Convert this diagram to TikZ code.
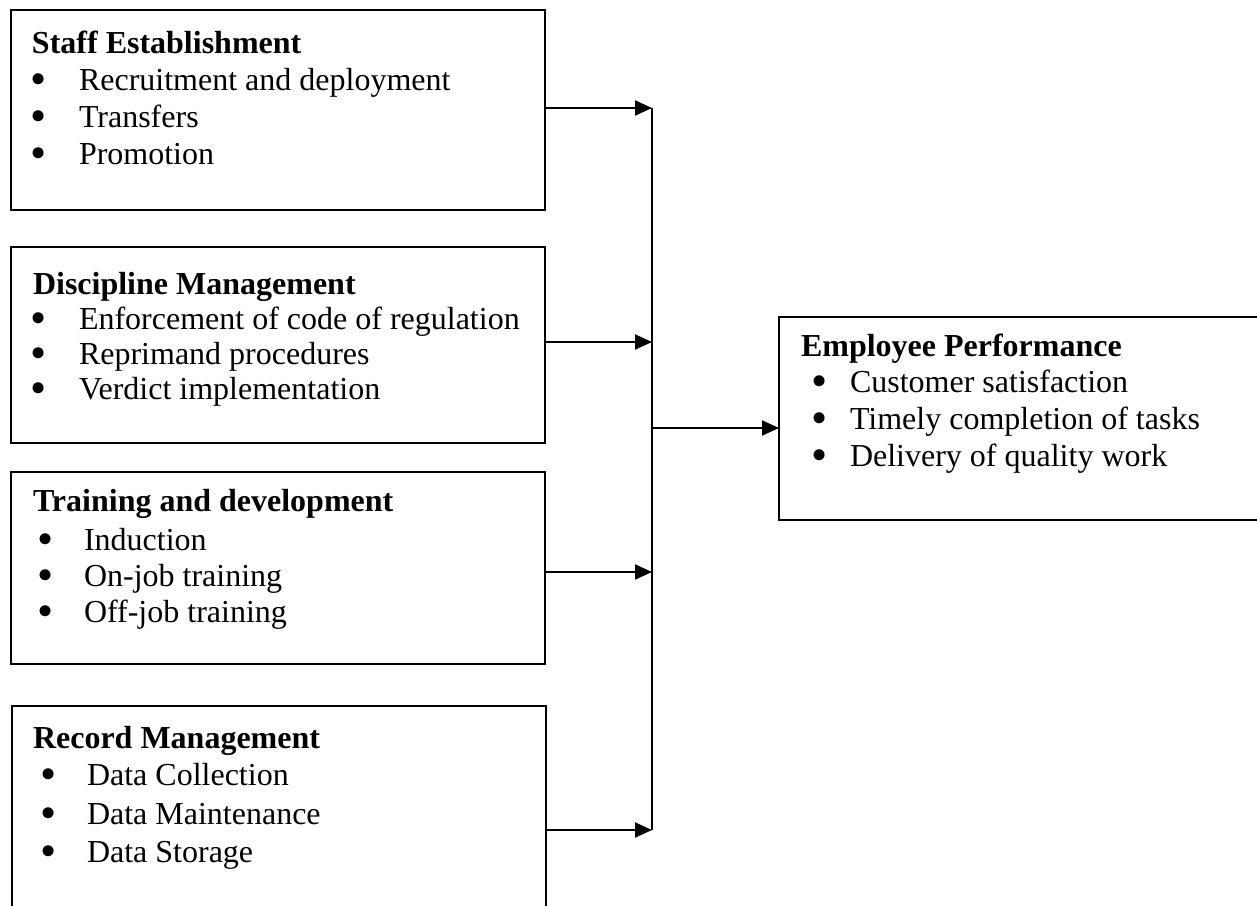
\documentclass[tikz,border=0pt]{standalone}
\usepackage{fontspec}
\usepackage{graphicx}
\setmainfont{Liberation Serif}
\usetikzlibrary{arrows.meta}
\newcommand\bigbul{\smash{\raisebox{-2.2pt}{\scalebox{1.44}{\textbullet}}}}
\begin{document}
\begin{tikzpicture}[x=0.5pt,y=-0.5pt,
  area/.style={draw=none,rectangle,inner sep=0pt,outer sep=0pt,anchor=north west},
  boxline/.style={line width=1pt,line join=miter},
  txt/.style={anchor=base west,inner sep=0pt,outer sep=0pt,font=\fontsize{16}{19}\selectfont},
  ttl/.style={txt,font=\fontsize{16}{19}\selectfont\bfseries},
  conn/.style={line width=1pt},
  arr/.style={line width=1pt,-{Triangle[length=8.5pt,width=7.5pt]}}]
\useasboundingbox (0,0) rectangle (1257,905);
% box areas
\node[area,minimum width=267pt,minimum height=100pt] (b1) at (11,10) {};
\node[area,minimum width=267pt,minimum height=98pt] (b2) at (11,247) {};
\node[area,minimum width=267pt,minimum height=96pt] (b3) at (11,472) {};
\node[area,minimum width=267pt,minimum height=104pt] (b4) at (12,706) {};
\node[area,minimum width=245pt,minimum height=101.5pt] (ep) at (779,317) {};
% outlines
\draw[boxline] (b1.south west) rectangle (b1.north east);
\draw[boxline] (b2.south west) rectangle (b2.north east);
\draw[boxline] (b3.south west) rectangle (b3.north east);
\draw[boxline] (b4.south west) -- (b4.north west) -- (b4.north east) -- (b4.south east);
\draw[boxline] (ep.north east) -- (ep.north west) -- (ep.south west) -- (ep.south east);
% box 1
\node[ttl] (t1) at (32,53) {Staff Establishment};
\node[txt] (t1a) at (30,90) {\bigbul};
\node[txt] (t1b) at (79,90) {Recruitment and deployment};
\node[txt] (t1c) at (30,127) {\bigbul};
\node[txt] (t1d) at (79,127) {Transfers};
\node[txt] (t1e) at (30,164) {\bigbul};
\node[txt] (t1f) at (79,164) {Promotion};
% box 2
\node[ttl] (t2) at (33,294) {Discipline Management};
\node[txt] (t2a) at (30,329) {\bigbul};
\node[txt] (t2b) at (79,329) {Enforcement of code of regulation};
\node[txt] (t2c) at (30,364) {\bigbul};
\node[txt] (t2d) at (79,364) {Reprimand procedures};
\node[txt] (t2e) at (30,399) {\bigbul};
\node[txt] (t2f) at (79,399) {Verdict implementation};
% box 3
\node[ttl] (t3) at (33,511) {Training and development};
\node[txt] (t3a) at (37,550) {\bigbul};
\node[txt] (t3b) at (84,550) {Induction};
\node[txt] (t3c) at (37,586) {\bigbul};
\node[txt] (t3d) at (84,586) {On-job training};
\node[txt] (t3e) at (37,622) {\bigbul};
\node[txt] (t3f) at (84,622) {Off-job training};
% box 4
\node[ttl] (t4) at (33,748) {Record Management};
\node[txt] (t4a) at (40,785) {\bigbul};
\node[txt] (t4b) at (87,785) {Data Collection};
\node[txt] (t4c) at (40,824) {\bigbul};
\node[txt] (t4d) at (87,824) {Data Maintenance};
\node[txt] (t4e) at (40,862) {\bigbul};
\node[txt] (t4f) at (87,862) {Data Storage};
% employee performance
\node[ttl] (t5) at (801,356) {Employee Performance};
\node[txt] (t5a) at (811,392) {\bigbul};
\node[txt] (t5b) at (850,392) {Customer satisfaction};
\node[txt] (t5c) at (811,429) {\bigbul};
\node[txt] (t5d) at (850,429) {Timely completion of tasks};
\node[txt] (t5e) at (811,466) {\bigbul};
\node[txt] (t5f) at (850,466) {Delivery of quality work};
% connectors
\coordinate (j1) at (652,108);
\coordinate (j2) at (652,342);
\coordinate (j3) at (652,572);
\coordinate (j4) at (652,830);
\coordinate (jm) at (652,428);
\draw[arr] (b1.east |- j1) -- (j1);
\draw[arr] (b2.east |- j2) -- (j2);
\draw[arr] (b3.east |- j3) -- (j3);
\draw[arr] (b4.east |- j4) -- (j4);
\draw[conn] (j1) -- (j4);
\draw[arr] (jm) -- (ep.west |- jm);
\end{tikzpicture}
\end{document}
